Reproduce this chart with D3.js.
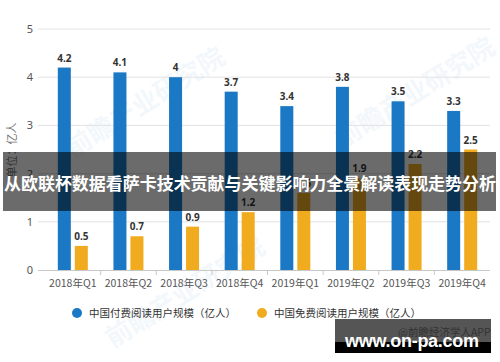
<!DOCTYPE html>
<html>
<head>
<meta charset="utf-8">
<script src="https://cdn.jsdelivr.net/npm/d3@7"></script>
<style>
  body { margin: 0; background: #fff; }
  svg { display: block; font-family: "Noto Sans CJK SC", "Noto Sans", sans-serif; }
</style>
</head>
<body>
<svg id="chart" width="500" height="362"></svg>
<script>
const categories = ['2018年Q1', '2018年Q2', '2018年Q3', '2018年Q4', '2019年Q1', '2019年Q2', '2019年Q3', '2019年Q4'];
const paidUsers = [4.2, 4.1, 4, 3.7, 3.4, 3.8, 3.5, 3.3];
const freeUsers = [0.5, 0.7, 0.9, 1.2, 1.6, 1.9, 2.2, 2.5];
const yTicks = [0, 1, 2, 3, 4, 5];
const seriesNames = ['中国付费阅读用户规模（亿人）', '中国免费阅读用户规模（亿人）'];
const colors = ['#1a78c4', '#f1ab1f'];
const title = '从欧联杯数据看萨卡技术贡献与关键影响力全景解读表现走势分析';

const svg = d3.select('#chart');

// faint background watermark
[[150, 110], [420, 100], [190, 300]].forEach(p => {
  svg.append('text')
    .attr('transform', 'translate(' + p[0] + ',' + p[1] + ') rotate(-32)')
    .attr('text-anchor', 'middle')
    .attr('font-size', 26)
    .attr('font-weight', 'bold')
    .attr('fill', '#1a78c4')
    .attr('opacity', 0.05)
    .text('前瞻产业研究院');
});

const x = d3.scaleBand().domain(categories).range([45, 490]);
const inner = d3.scaleBand().domain([0, 1]).range([-15, 15]).paddingInner(0.235);
const y = d3.scaleLinear().domain([0, 5]).range([270, 29]);

// grid
svg.append('g')
  .selectAll('line')
  .data(yTicks.filter(d => d > 0))
  .join('line')
  .attr('x1', 38).attr('x2', 490)
  .attr('y1', d => y(d)).attr('y2', d => y(d))
  .attr('stroke', '#e2e2e2');

// y axis labels
const yAxis = svg.append('g')
  .attr('transform', 'translate(38,0)')
  .call(d3.axisLeft(y).tickValues(yTicks).tickFormat(d3.format('d')).tickSize(0).tickPadding(5));
yAxis.select('.domain').remove();
yAxis.selectAll('text').attr('font-size', 11).attr('fill', '#555').attr('font-family', '"Noto Sans", sans-serif');

svg.append('text')
  .attr('transform', 'translate(16,150) rotate(-90)')
  .attr('text-anchor', 'middle')
  .attr('font-size', 11)
  .attr('fill', '#777')
  .text('单位：亿人');

// bars
const groups = svg.append('g')
  .selectAll('g')
  .data(categories)
  .join('g')
  .attr('transform', d => 'translate(' + (x(d) + x.bandwidth() / 2) + ',0)');

[paidUsers, freeUsers].forEach((values, s) => {
  groups.append('rect')
    .attr('x', inner(s))
    .attr('width', inner.bandwidth())
    .attr('y', (d, i) => y(values[i]))
    .attr('height', (d, i) => y(0) - y(values[i]))
    .attr('fill', colors[s]);
  groups.append('text')
    .attr('x', inner(s) + inner.bandwidth() / 2)
    .attr('y', (d, i) => y(values[i]) - 6)
    .attr('text-anchor', 'middle')
    .attr('font-size', 10)
    .attr('font-weight', 'bold')
    .attr('fill', '#333')
    .attr('font-family', '"Noto Sans", sans-serif')
    .text((d, i) => values[i]);
});

// x axis
svg.append('line')
  .attr('x1', 38).attr('x2', 490)
  .attr('y1', y(0) + 0.5).attr('y2', y(0) + 0.5)
  .attr('stroke', '#c8c8c8');
svg.append('g')
  .selectAll('line')
  .data(categories.slice(1))
  .join('line')
  .attr('x1', d => x(d)).attr('x2', d => x(d))
  .attr('y1', y(0)).attr('y2', y(0) + 5)
  .attr('stroke', '#c8c8c8');
svg.append('g')
  .selectAll('text')
  .data(categories)
  .join('text')
  .attr('x', d => x(d) + x.bandwidth() / 2)
  .attr('y', 287)
  .attr('text-anchor', 'middle')
  .attr('font-size', 10.5)
  .attr('fill', '#555')
  .text(d => d);

// legend
const legendX = [77, 262];
seriesNames.forEach((name, s) => {
  svg.append('circle')
    .attr('cx', legendX[s]).attr('cy', 313).attr('r', 5)
    .attr('fill', colors[s]);
  svg.append('text')
    .attr('x', legendX[s] + 12).attr('y', 317)
    .attr('font-size', 10.5)
    .attr('fill', '#333')
    .text(name);
});

// title banner
svg.append('rect')
  .attr('x', 3).attr('y', 152).attr('width', 493).attr('height', 59)
  .attr('fill', '#000').attr('opacity', 0.58);
svg.append('text')
  .attr('x', 250).attr('y', 190)
  .attr('text-anchor', 'middle')
  .attr('font-size', 17)
  .attr('font-weight', 'bold')
  .attr('fill', '#fff')
  .attr('textLength', 492)
  .text(title);

// site watermark
svg.append('rect')
  .attr('x', 335).attr('y', 319).attr('width', 156).attr('height', 23)
  .attr('fill', '#555');
svg.append('rect')
  .attr('x', 335).attr('y', 342).attr('width', 156).attr('height', 11)
  .attr('fill', '#000');
svg.append('text')
  .attr('x', 398).attr('y', 336)
  .attr('font-size', 10.5)
  .attr('fill', '#333')
  .text('@前瞻经济学人APP');
svg.append('text')
  .attr('x', 345).attr('y', 347)
  .attr('font-size', 18)
  .attr('font-weight', 'bold')
  .attr('fill', '#fff')
  .attr('font-family', '"Liberation Sans", sans-serif')
  .attr('textLength', 134)
  .text('www.on-pa.com');
</script>
</body>
</html>
